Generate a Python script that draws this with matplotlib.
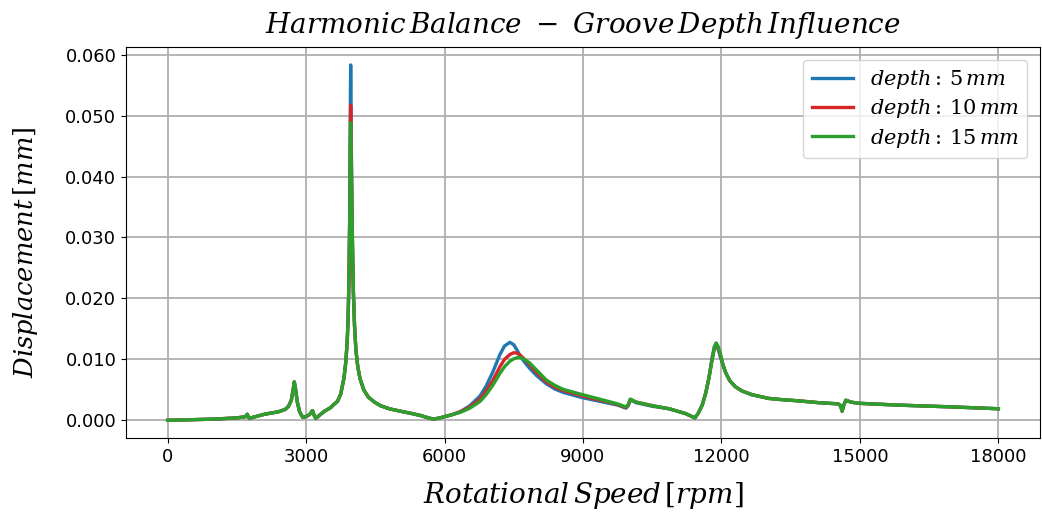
"""Harmonic balance response: influence of groove depth on displacement."""

import matplotlib.pyplot as plt
from matplotlib.ticker import FormatStrFormatter, MultipleLocator

plt.rcParams["mathtext.fontset"] = "dejavuserif"

# rotational speed samples [rpm]
rpm = [
    0, 500, 1000, 1500, 1690, 1725, 1770, 1850, 2100, 2400, 2550, 2620, 2680, 2715,
    2745, 2770, 2810, 2860, 2925, 3000, 3080, 3140, 3170, 3210, 3300, 3400, 3535,
    # first critical speed
    3600, 3680, 3750, 3820, 3860, 3890, 3910, 3930, 3945, 3955, 3961, 3966, 3971,
    3978, 3990, 4005, 4025, 4050, 4080, 4120, 4170, 4250, 4350, 4480, 4613, 4800,
    5044, 5300, 5475, 5650, 5762, 5900, 6000, 6150, 6338,
    # groove-sensitive mode
    6550, 6769, 6900, 7050, 7200, 7300, 7416, 7500, 7580, 7650, 7750, 7847, 8000,
    8206, 8400, 8565, 8800, 8996, 9250, 9500, 9750, 9931, 9980, 10024, 10070, 10147,
    # second critical speed and tail
    10506, 10865, 11225, 11425, 11500, 11583, 11660, 11727, 11800, 11850, 11885,
    11930, 11980, 12030, 12087, 12180, 12303, 12450, 12663, 13020, 13300, 13667,
    14100, 14529, 14580, 14615, 14650, 14695, 14800, 14960, 15823, 17000, 18000,
]

# displacement amplitude [mm]
disp_5mm = [
    0.0, 0.0001, 0.0002, 0.0004, 0.0006, 0.0010, 0.0003, 0.0005, 0.0010, 0.0014,
    0.0018, 0.0023, 0.0033, 0.0048, 0.0063, 0.0052, 0.0030, 0.0014, 0.0005, 0.0006,
    0.0010, 0.0016, 0.0009, 0.0003, 0.0009, 0.0015, 0.0021,
    0.0026, 0.0031, 0.0043, 0.0069, 0.0095, 0.0128, 0.0165, 0.0235, 0.0330, 0.0450,
    0.0540, 0.0583, 0.0550, 0.0470, 0.0370, 0.0290, 0.0210, 0.0155, 0.0115, 0.0088,
    0.0068, 0.0050, 0.0038, 0.0030, 0.0024, 0.0019, 0.0015, 0.0011, 0.0008, 0.0004,
    0.0002, 0.0004, 0.0006, 0.0009, 0.0014,
    0.0024, 0.0040, 0.0056, 0.0080, 0.0108, 0.0122, 0.0128, 0.0124, 0.0114, 0.0104,
    0.0094, 0.0085, 0.0073, 0.0060, 0.0051, 0.0046, 0.0041, 0.0037, 0.0033, 0.0029,
    0.0025, 0.0020, 0.0024, 0.0033, 0.0032, 0.0029,
    0.0023, 0.0019, 0.0011, 0.0004, 0.0012, 0.0025, 0.0045, 0.0069, 0.0104, 0.0122,
    0.0124, 0.0116, 0.0103, 0.0092, 0.0079, 0.0065, 0.0055, 0.0048, 0.0042, 0.0036,
    0.0034, 0.0032, 0.0029, 0.0027, 0.0024, 0.0015, 0.0025, 0.0033, 0.0030, 0.0028,
    0.0025, 0.0022, 0.0019,
]

disp_10mm = [
    0.0, 0.0001, 0.0002, 0.0004, 0.0006, 0.0010, 0.0003, 0.0005, 0.0010, 0.0014,
    0.0018, 0.0023, 0.0033, 0.0048, 0.0063, 0.0052, 0.0030, 0.0014, 0.0005, 0.0006,
    0.0010, 0.0016, 0.0009, 0.0003, 0.0009, 0.0015, 0.0021,
    0.0026, 0.0031, 0.0043, 0.0069, 0.0095, 0.0128, 0.0165, 0.0235, 0.0330, 0.0430,
    0.0490, 0.0517, 0.0500, 0.0450, 0.0370, 0.0290, 0.0210, 0.0155, 0.0115, 0.0088,
    0.0068, 0.0050, 0.0038, 0.0030, 0.0024, 0.0019, 0.0015, 0.0011, 0.0008, 0.0004,
    0.0002, 0.0004, 0.0006, 0.0009, 0.0014,
    0.0022, 0.0035, 0.0048, 0.0066, 0.0088, 0.0100, 0.0108, 0.0111, 0.0110, 0.0106,
    0.0099, 0.0091, 0.0078, 0.0063, 0.0054, 0.0049, 0.0044, 0.0040, 0.0035, 0.0031,
    0.0026, 0.0021, 0.0025, 0.0034, 0.0033, 0.0030,
    0.0024, 0.0019, 0.0011, 0.0004, 0.0012, 0.0025, 0.0045, 0.0069, 0.0101, 0.0120,
    0.0126, 0.0119, 0.0106, 0.0092, 0.0079, 0.0065, 0.0055, 0.0048, 0.0042, 0.0036,
    0.0034, 0.0032, 0.0029, 0.0027, 0.0024, 0.0015, 0.0025, 0.0033, 0.0030, 0.0028,
    0.0025, 0.0022, 0.0019,
]

disp_15mm = [
    0.0, 0.0001, 0.0002, 0.0004, 0.0006, 0.0010, 0.0003, 0.0005, 0.0010, 0.0014,
    0.0018, 0.0023, 0.0033, 0.0048, 0.0063, 0.0052, 0.0030, 0.0014, 0.0005, 0.0006,
    0.0010, 0.0016, 0.0009, 0.0003, 0.0009, 0.0015, 0.0021,
    0.0026, 0.0031, 0.0043, 0.0069, 0.0095, 0.0128, 0.0165, 0.0235, 0.0330, 0.0420,
    0.0470, 0.0488, 0.0470, 0.0430, 0.0370, 0.0290, 0.0210, 0.0155, 0.0115, 0.0088,
    0.0068, 0.0050, 0.0038, 0.0030, 0.0024, 0.0019, 0.0015, 0.0011, 0.0008, 0.0004,
    0.0002, 0.0004, 0.0006, 0.0009, 0.0013,
    0.0020, 0.0031, 0.0042, 0.0058, 0.0077, 0.0088, 0.0097, 0.0101, 0.0103, 0.0103,
    0.0099, 0.0094, 0.0082, 0.0066, 0.0057, 0.0051, 0.0046, 0.0042, 0.0037, 0.0032,
    0.0027, 0.0022, 0.0026, 0.0035, 0.0033, 0.0030,
    0.0024, 0.0019, 0.0011, 0.0004, 0.0012, 0.0025, 0.0045, 0.0069, 0.0100, 0.0120,
    0.0127, 0.0121, 0.0108, 0.0092, 0.0079, 0.0065, 0.0055, 0.0048, 0.0042, 0.0036,
    0.0034, 0.0032, 0.0029, 0.0027, 0.0024, 0.0015, 0.0025, 0.0033, 0.0030, 0.0028,
    0.0025, 0.0022, 0.0019,
]

series = [
    (disp_5mm, "tab:blue", r"$depth:\,5\,mm$"),
    (disp_10mm, "tab:red", r"$depth:\,10\,mm$"),
    (disp_15mm, "tab:green", r"$depth:\,15\,mm$"),
]


def main():
    fig, ax = plt.subplots(figsize=(10.42, 5.13), dpi=100)
    fig.subplots_adjust(left=0.121, right=0.998, bottom=0.146, top=0.908)

    for values, color, label in series:
        ax.plot(rpm, values, color=color, linewidth=2.4, label=label)

    ax.set_title(r"$Harmonic\,Balance\ -\ Groove\,Depth\,Influence$", fontsize=20, pad=10)
    ax.set_xlabel(r"$Rotational\,Speed\,[rpm]$", fontsize=20, labelpad=10)
    ax.set_ylabel(r"$Displacement\,[mm]$", fontsize=18.5)
    ax.yaxis.set_label_coords(-0.094, 0.475)
    ax.xaxis.set_major_locator(MultipleLocator(3000))
    ax.yaxis.set_major_locator(MultipleLocator(0.01))
    ax.yaxis.set_major_formatter(FormatStrFormatter("%.3f"))
    ax.tick_params(labelsize=13)
    ax.grid(True, color="#b0b0b0", linewidth=1.3)
    ax.legend(loc="upper right", fontsize=15, labelspacing=0.3, borderaxespad=0.6)

    fig.savefig("out.png", dpi=100)
    plt.close(fig)


if __name__ == "__main__":
    main()
